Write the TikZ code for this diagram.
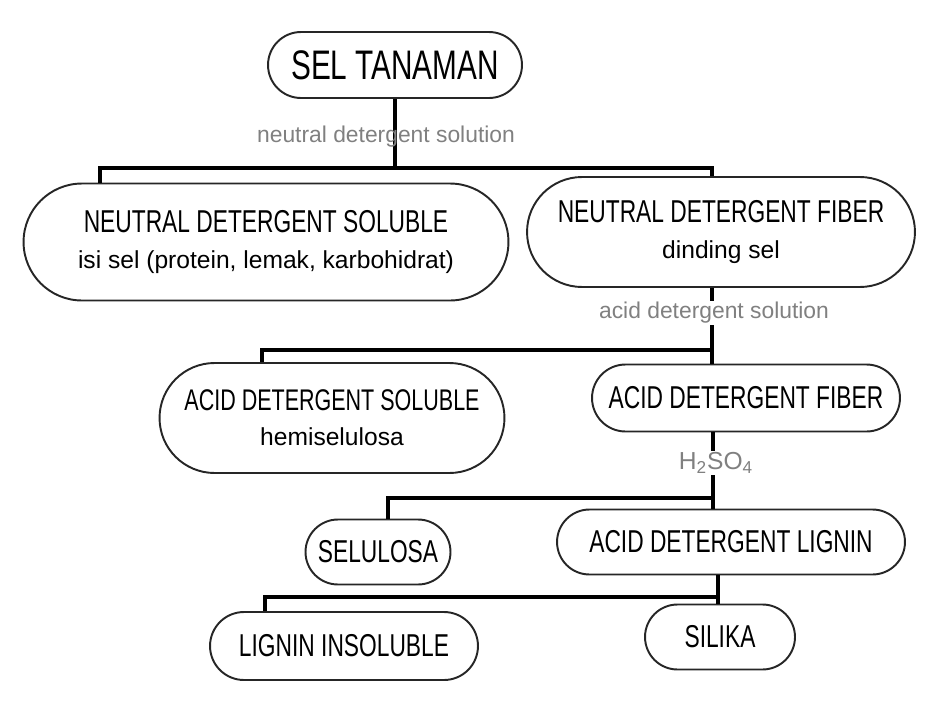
\documentclass[tikz,border=0pt]{standalone}
\usepackage{fontspec}
\setmainfont{Liberation Sans}
\newfontfamily\capfont{Liberation Sans}[FakeStretch=0.72]
\usetikzlibrary{shapes.misc}

\begin{document}
\begin{tikzpicture}[x=0.02cm,y=-0.02cm, % one unit = one pixel of the scan
  box/.style={draw=black!85,line width=1.1pt,rounded rectangle,inner sep=0pt,align=center,
    font=\fontsize{14}{17}\selectfont},
  caps/.style={font=\capfont\fontsize{18}{20}\selectfont},
  link/.style={line width=1.8pt},
  sol/.style={font=\fontsize{13}{15}\selectfont,text=black!50,inner sep=1pt}]

\useasboundingbox (0,0) rectangle (946,710);

\node[box,minimum width=5.08cm,minimum height=1.32cm,font=\capfont\fontsize{23.5}{26}\selectfont] (st) at (395,65) {SEL TANAMAN};
\node[box,minimum width=9.7cm,minimum height=2.34cm] (nds) at (266,242)
  {{\capfont\fontsize{18}{20}\selectfont NEUTRAL DETERGENT SOLUBLE}\\[3pt] isi sel (protein, lemak, karbohidrat)};
\node[box,minimum width=7.76cm,minimum height=2.2cm] (ndf) at (721,232)
  {{\capfont\fontsize{18}{20}\selectfont NEUTRAL DETERGENT FIBER}\\[3pt] dinding sel};
\node[box,minimum width=6.9cm,minimum height=2.2cm] (asd) at (332,418)
  {{\capfont\fontsize{17}{20}\selectfont ACID DETERGENT SOLUBLE}\\[3pt] hemiselulosa};
\node[box,caps,minimum width=6.16cm,minimum height=1.34cm] (adf) at (746,398) {ACID DETERGENT FIBER};
\node[box,caps,minimum width=2.9cm,minimum height=1.3cm] (sel) at (378,552) {SELULOSA};
\node[box,caps,minimum width=6.96cm,minimum height=1.3cm] (adl) at (731,542) {ACID DETERGENT LIGNIN};
\node[box,caps,minimum width=5.36cm,minimum height=1.36cm] (li) at (344,646) {LIGNIN INSOLUBLE};
\node[box,caps,minimum width=3.0cm,minimum height=1.3cm] (sil) at (720,637) {SILIKA};

% branch points
\coordinate (b1l) at (100,168);
\coordinate (b1r) at (712,168);
\coordinate (b2l) at (262,350);
\coordinate (b2r) at (712,350);
\coordinate (b3l) at (388,498);
\coordinate (b3r) at (713,498);
\coordinate (b4l) at (265,597);
\coordinate (b4r) at (718,597);

\draw[link] (st.south) -- (st.south |- b1l);
\draw[link] (nds.north -| b1l) -- (b1l) -- (b1r) -- (ndf.north -| b1r);
\draw[link] (ndf.south -| b2r) -- (b2r) -- (b2l) -- (asd.north -| b2l);
\draw[link] (b2r) -- (adf.north -| b2r);
\draw[link] (adf.south -| b3r) -- (b3r) -- (b3l) -- (sel.north -| b3l);
\draw[link] (b3r) -- (adl.north -| b3r);
\draw[link] (adl.south -| b4r) -- (b4r) -- (b4l) -- (li.north -| b4l);
\draw[link] (b4r) -- (sil.north -| b4r);

\node[sol] (nsol) at (386,137) {neutral detergent solution};
\node[sol,fill=white] (asol) at (714,313) {acid detergent solution};
\node[sol,fill=white,font=\fontsize{14}{16}\selectfont] (hso) at (716,463) {H\textsubscript{2}SO\textsubscript{4}};
\end{tikzpicture}
\end{document}
